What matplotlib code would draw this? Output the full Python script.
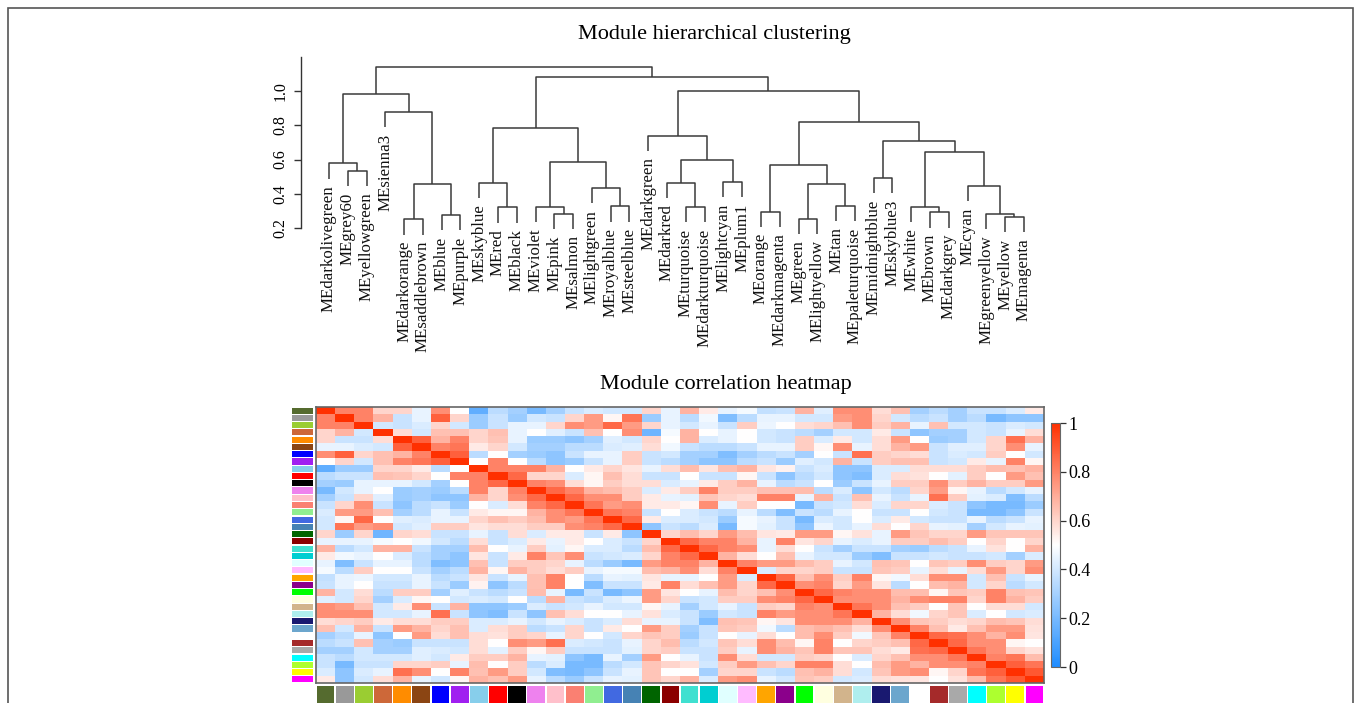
import matplotlib
matplotlib.use("Agg")
import matplotlib.pyplot as plt
import numpy as np
from matplotlib.colors import LinearSegmentedColormap, Normalize
from matplotlib.cm import ScalarMappable
from matplotlib.patches import Rectangle

plt.rcParams['font.family'] = ['Liberation Serif', 'DejaVu Serif']

# module eigengenes, in dendrogram order
modules = ["darkolivegreen", "grey60", "yellowgreen", "sienna3", "darkorange",
           "saddlebrown", "blue", "purple", "skyblue", "red", "black", "violet",
           "pink", "salmon", "lightgreen", "royalblue", "steelblue", "darkgreen",
           "darkred", "turquoise", "darkturquoise", "lightcyan", "plum1", "orange",
           "darkmagenta", "green", "lightyellow", "tan", "paleturquoise",
           "midnightblue", "skyblue3", "white", "brown", "darkgrey", "cyan",
           "greenyellow", "yellow", "magenta"]

module_colors = ["#556B2F", "#999999", "#9ACD32", "#CD6839", "#FF8C00",
                 "#8B4513", "#0000FF", "#A020F0", "#87CEEB", "#FF0000", "#000000",
                 "#EE82EE", "#FFC0CB", "#FA8072", "#90EE90", "#4169E1", "#4682B4",
                 "#006400", "#8B0000", "#40E0D0", "#00CED1", "#E0FFFF", "#FFBBFF",
                 "#FFA500", "#8B008B", "#00FF00", "#FFFFE0", "#D2B48C", "#AFEEEE",
                 "#191970", "#6CA6CD", "#FFFFFF", "#A52A2A", "#A9A9A9", "#00FFFF",
                 "#ADFF2F", "#FFFF00", "#FF00FF"]

# merges: (left, right, height); ints refer to earlier merges
merges = [
    ("grey60", "yellowgreen", 0.534),
    ("darkolivegreen", 0, 0.577),
    ("darkorange", "saddlebrown", 0.252),
    ("blue", "purple", 0.278),
    (2, 3, 0.457),
    ("sienna3", 4, 0.876),
    (1, 5, 0.980),
    ("red", "black", 0.321),
    ("skyblue", 7, 0.464),
    ("pink", "salmon", 0.284),
    ("violet", 9, 0.326),
    ("royalblue", "steelblue", 0.328),
    ("lightgreen", 11, 0.433),
    (10, 12, 0.583),
    (8, 13, 0.781),
    ("turquoise", "darkturquoise", 0.324),
    ("darkred", 15, 0.464),
    ("lightcyan", "plum1", 0.470),
    (16, 17, 0.600),
    ("darkgreen", 18, 0.738),
    ("orange", "darkmagenta", 0.297),
    ("green", "lightyellow", 0.256),
    ("tan", "paleturquoise", 0.330),
    (21, 22, 0.457),
    (20, 23, 0.569),
    ("midnightblue", "skyblue3", 0.493),
    ("brown", "darkgrey", 0.292),
    ("white", 26, 0.324),
    ("yellow", "magenta", 0.266),
    ("greenyellow", 28, 0.286),
    ("cyan", 29, 0.447),
    (27, 30, 0.645),
    (25, 31, 0.709),
    (24, 32, 0.816),
    (19, 33, 0.999),
    (14, 34, 1.080),
    (6, 35, 1.137),
]

# upper triangle of the correlation heatmap, row i holds columns i+1..37
corr_upper = [
    [0.8, 0.8, 0.6, 0.6, 0.45, 0.77, 0.5, 0.15, 0.35, 0.3, 0.2, 0.3, 0.38, 0.42, 0.4, 0.4, 0.6, 0.45,
     0.68, 0.55, 0.45, 0.48, 0.37, 0.38, 0.68, 0.43, 0.77, 0.77, 0.58, 0.65, 0.3, 0.35, 0.3, 0.38, 0.38, 0.42, 0.55],
    [0.8, 0.68, 0.38, 0.45, 0.88, 0.6, 0.28, 0.38, 0.28, 0.4, 0.38, 0.6, 0.74, 0.52, 0.83, 0.28, 0.45,
     0.35, 0.47, 0.22, 0.35, 0.45, 0.45, 0.4, 0.4, 0.74, 0.77, 0.6, 0.4, 0.35, 0.38, 0.3, 0.35, 0.2, 0.25, 0.25],
    [0.4, 0.38, 0.42, 0.6, 0.4, 0.28, 0.38, 0.45, 0.45, 0.6, 0.77, 0.74, 0.86, 0.74, 0.6, 0.45,
     0.4, 0.45, 0.38, 0.62, 0.46, 0.5, 0.58, 0.6, 0.65, 0.77, 0.62, 0.68, 0.45, 0.65, 0.4, 0.4, 0.38, 0.42, 0.4],
    [0.58, 0.4, 0.65, 0.65, 0.6, 0.65, 0.45, 0.5, 0.43, 0.38, 0.65, 0.5, 0.77, 0.18, 0.48,
     0.68, 0.5, 0.45, 0.5, 0.4, 0.38, 0.35, 0.3, 0.4, 0.4, 0.55, 0.38, 0.25, 0.3, 0.3, 0.4, 0.38, 0.45, 0.58],
    [0.88, 0.68, 0.8, 0.6, 0.64, 0.45, 0.28, 0.28, 0.25, 0.3, 0.43, 0.4, 0.6, 0.5,
     0.68, 0.42, 0.45, 0.5, 0.4, 0.38, 0.62, 0.42, 0.55, 0.4, 0.58, 0.74, 0.5, 0.28, 0.3, 0.4, 0.6, 0.84, 0.68],
    [0.8, 0.83, 0.55, 0.6, 0.4, 0.3, 0.3, 0.35, 0.35, 0.42, 0.43, 0.58, 0.47,
     0.38, 0.35, 0.35, 0.38, 0.45, 0.45, 0.62, 0.52, 0.77, 0.45, 0.58, 0.68, 0.74, 0.38, 0.43, 0.43, 0.6, 0.77, 0.45],
    [0.88, 0.35, 0.5, 0.3, 0.28, 0.25, 0.38, 0.45, 0.45, 0.62, 0.38, 0.4,
     0.3, 0.3, 0.22, 0.3, 0.35, 0.38, 0.3, 0.5, 0.38, 0.84, 0.62, 0.6, 0.58, 0.38, 0.42, 0.4, 0.62, 0.5, 0.4],
    [0.5, 0.8, 0.5, 0.35, 0.25, 0.28, 0.38, 0.45, 0.62, 0.38, 0.35,
     0.3, 0.25, 0.25, 0.35, 0.38, 0.28, 0.43, 0.4, 0.68, 0.38, 0.62, 0.65, 0.65, 0.38, 0.4, 0.55, 0.45, 0.8, 0.52],
    [0.8, 0.8, 0.8, 0.68, 0.5, 0.55, 0.6, 0.56, 0.45, 0.58,
     0.66, 0.56, 0.65, 0.68, 0.56, 0.53, 0.38, 0.42, 0.25, 0.25, 0.42, 0.42, 0.58, 0.58, 0.58, 0.62, 0.66, 0.65, 0.68],
    [0.86, 0.6, 0.6, 0.42, 0.52, 0.65, 0.58, 0.38, 0.38,
     0.5, 0.38, 0.38, 0.52, 0.38, 0.25, 0.35, 0.4, 0.25, 0.22, 0.42, 0.58, 0.57, 0.5, 0.44, 0.62, 0.5, 0.74, 0.65],
    [0.8, 0.77, 0.58, 0.52, 0.62, 0.58, 0.58, 0.42,
     0.45, 0.55, 0.62, 0.68, 0.45, 0.35, 0.38, 0.5, 0.28, 0.38, 0.45, 0.62, 0.62, 0.77, 0.62, 0.68, 0.62, 0.62, 0.74],
    [0.86, 0.8, 0.68, 0.66, 0.62, 0.42, 0.55,
     0.62, 0.8, 0.62, 0.62, 0.65, 0.65, 0.66, 0.35, 0.42, 0.25, 0.4, 0.35, 0.6, 0.74, 0.52, 0.45, 0.35, 0.4, 0.45],
    [0.86, 0.77, 0.77, 0.62, 0.55, 0.45,
     0.44, 0.64, 0.6, 0.58, 0.8, 0.8, 0.45, 0.68, 0.38, 0.65, 0.45, 0.38, 0.45, 0.84, 0.62, 0.44, 0.42, 0.22, 0.35],
    [0.83, 0.74, 0.77, 0.55, 0.55,
     0.52, 0.77, 0.45, 0.62, 0.5, 0.5, 0.2, 0.38, 0.4, 0.58, 0.42, 0.6, 0.6, 0.42, 0.38, 0.25, 0.2, 0.2, 0.28],
    [0.83, 0.8, 0.38, 0.5,
     0.42, 0.38, 0.35, 0.45, 0.35, 0.22, 0.38, 0.35, 0.45, 0.5, 0.38, 0.38, 0.5, 0.4, 0.38, 0.2, 0.2, 0.25, 0.38],
    [0.86, 0.55, 0.42,
     0.42, 0.4, 0.28, 0.48, 0.45, 0.38, 0.2, 0.42, 0.4, 0.5, 0.42, 0.55, 0.4, 0.38, 0.38, 0.45, 0.35, 0.38, 0.45],
    [0.25, 0.38,
     0.35, 0.42, 0.2, 0.48, 0.44, 0.38, 0.25, 0.46, 0.4, 0.45, 0.58, 0.5, 0.6, 0.45, 0.44, 0.3, 0.4, 0.45, 0.44],
    [0.6,
     0.66, 0.6, 0.74, 0.66, 0.56, 0.55, 0.74, 0.74, 0.52, 0.57, 0.45, 0.74, 0.64, 0.6, 0.6, 0.74, 0.64, 0.64, 0.64],
    [0.86, 0.8, 0.8, 0.68, 0.45, 0.8, 0.56, 0.6, 0.45, 0.42, 0.45, 0.62, 0.62, 0.66, 0.62, 0.5, 0.6, 0.5, 0.6],
    [0.86, 0.8, 0.77, 0.45, 0.58, 0.5, 0.38, 0.3, 0.38, 0.38, 0.3, 0.28, 0.35, 0.38, 0.45, 0.57, 0.5, 0.68],
    [0.68, 0.58, 0.5, 0.65, 0.45, 0.4, 0.4, 0.28, 0.22, 0.38, 0.38, 0.4, 0.38, 0.38, 0.4, 0.3, 0.42],
    [0.8, 0.74, 0.74, 0.66, 0.62, 0.45, 0.4, 0.65, 0.64, 0.5, 0.64, 0.62, 0.77, 0.62, 0.6, 0.74],
    [0.42, 0.6, 0.6, 0.62, 0.38, 0.38, 0.64, 0.62, 0.45, 0.58, 0.45, 0.58, 0.74, 0.6, 0.77],
    [0.86, 0.65, 0.77, 0.62, 0.8, 0.52, 0.47, 0.58, 0.77, 0.77, 0.4, 0.65, 0.38, 0.45],
    [0.77, 0.8, 0.6, 0.74, 0.56, 0.35, 0.5, 0.66, 0.68, 0.4, 0.6, 0.35, 0.4],
    [0.86, 0.8, 0.77, 0.77, 0.66, 0.66, 0.52, 0.64, 0.62, 0.8, 0.65, 0.64],
    [0.77, 0.77, 0.77, 0.68, 0.77, 0.8, 0.8, 0.6, 0.8, 0.68, 0.62],
    [0.83, 0.77, 0.65, 0.62, 0.5, 0.64, 0.5, 0.58, 0.58, 0.4],
    [0.68, 0.58, 0.47, 0.6, 0.64, 0.42, 0.5, 0.4, 0.42],
    [0.77, 0.64, 0.62, 0.58, 0.6, 0.66, 0.64, 0.58],
    [0.8, 0.65, 0.55, 0.65, 0.74, 0.74, 0.57],
    [0.86, 0.84, 0.77, 0.68, 0.77, 0.56],
    [0.86, 0.77, 0.77, 0.52, 0.5],
    [0.83, 0.77, 0.6, 0.57],
    [0.8, 0.83, 0.66],
    [0.88, 0.83],
    [0.9],
]

y_ticks = [0.2, 0.4, 0.6, 0.8, 1.0]
cbar_ticks = [0, 0.2, 0.4, 0.6, 0.8, 1]

W, H = 1356, 703
fig = plt.figure(figsize=(W / 100, H / 100), dpi=100)


def fx(px):
    return px / W


def fy(py):
    return 1 - py / H


n = len(modules)

# full symmetric matrix from the upper triangle
corr = np.eye(n)
for i, row in enumerate(corr_upper):
    corr[i, i + 1:] = row
    corr[i + 1:, i] = row

# ---- dendrogram ----
ax_d = fig.add_axes([fx(301), fy(228.3), fx(1044) - fx(301), fy(57) - fy(228.3)])
ax_d.set_xlim(-(329 - 301) / 18.78, (1044 - 329) / 18.78)
ax_d.set_ylim(0.2, 1.196)

pos = {name: i for i, name in enumerate(modules)}
hts = [m[2] for m in merges]
hang = 0.1 * (max(hts) - min(hts))
node_x, node_h = [], []
line_col = "#3a3a3a"

for a, b, h in merges:
    xs, ys = [], []
    for c in (a, b):
        if isinstance(c, str):
            cx = pos[c]
            cy = h - hang
            ax_d.annotate("ME" + c, xy=(cx, cy), xytext=(0, -4.5),
                          textcoords="offset points", rotation=90,
                          ha="center", va="top", fontsize=12.2, color="#111111",
                          annotation_clip=False)
        else:
            cx = node_x[c]
            cy = node_h[c]
        xs.append(cx)
        ys.append(cy)
    ax_d.plot([xs[0], xs[0], xs[1], xs[1]], [ys[0], h, h, ys[1]],
              color=line_col, lw=1.1, clip_on=False, solid_capstyle="butt")
    node_x.append((xs[0] + xs[1]) / 2)
    node_h.append(h)

for s in ["top", "right", "bottom"]:
    ax_d.spines[s].set_visible(False)
ax_d.spines["left"].set_color("#333333")
ax_d.spines["left"].set_linewidth(1.0)
ax_d.set_xticks([])
ax_d.set_yticks(y_ticks)
ax_d.set_yticklabels(["%.1f" % t for t in y_ticks], rotation=90, va="center",
                     fontsize=11.5)
ax_d.tick_params(axis="y", length=5, width=1.0, color="#333333", pad=4)
ax_d.patch.set_visible(False)

fig.text(fx(714), fy(35), "Module hierarchical clustering", ha="center",
         va="center", fontsize=16)

# ---- heatmap ----
cmap = LinearSegmentedColormap.from_list(
    "bwr_mod", ["#1E8CFF", "#FFFFFF", "#FF3000"])

ax_h = fig.add_axes([fx(316), fy(683), fx(1044) - fx(316), fy(407) - fy(683)])
ax_h.imshow(corr, cmap=cmap, vmin=0, vmax=1, aspect="auto",
            interpolation="nearest")
ax_h.set_xticks([])
ax_h.set_yticks([])
for s in ax_h.spines.values():
    s.set_color("#666666")
    s.set_linewidth(1.2)

fig.text(fx(726), fy(384), "Module correlation heatmap", ha="center",
         va="center", fontsize=16)

# module colour strips
ax_l = fig.add_axes([fx(292), fy(683), fx(313) - fx(292), fy(407) - fy(683)])
ax_l.barh(np.arange(n), 1, height=0.84, color=module_colors)
ax_l.set_ylim(n - 0.5, -0.5)
ax_l.set_xlim(0, 1)
ax_l.axis("off")

ax_b = fig.add_axes([fx(316), fy(712), fx(1044) - fx(316), fy(686) - fy(712)])
ax_b.bar(np.arange(n), 1, width=0.93, color=module_colors)
ax_b.set_xlim(-0.5, n - 0.5)
ax_b.set_ylim(0, 1)
ax_b.axis("off")

# colour bar
cax = fig.add_axes([fx(1051), fy(667), fx(1060) - fx(1051), fy(423) - fy(667)])
cb = fig.colorbar(ScalarMappable(norm=Normalize(0, 1), cmap=cmap), cax=cax,
                  ticks=cbar_ticks)
cb.set_ticklabels([("%g" % t) for t in cbar_ticks])
cb.outline.set_edgecolor("#666666")
cb.outline.set_linewidth(0.8)
cax.tick_params(length=4.5, width=0.9, color="#333333", labelsize=13, pad=1.5)

# outer frame
fig.add_artist(Rectangle((fx(8), -0.05), fx(1353) - fx(8), fy(8) + 0.05,
                         transform=fig.transFigure, fill=False,
                         edgecolor="#555555", lw=1.2))

fig.savefig("out.png", dpi=100)
